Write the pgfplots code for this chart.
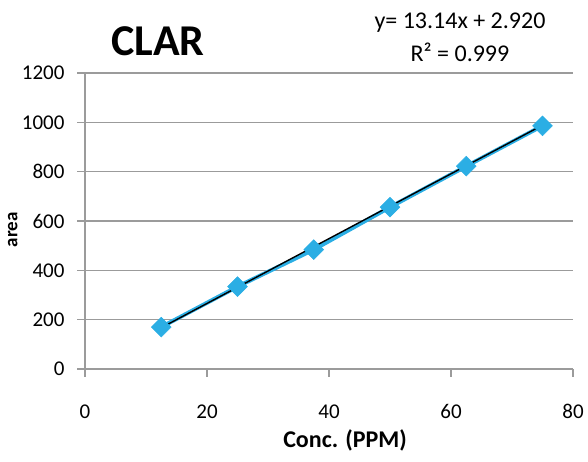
\documentclass[border=0pt]{standalone}
\usepackage{pgfplots}
\pgfplotsset{compat=1.18}
\usepackage{fontspec}
\setmainfont{Carlito}
\definecolor{serblue}{HTML}{2BAEE4}
\definecolor{gridgray}{HTML}{9B9B9B}
\begin{document}
\begin{tikzpicture}[x=1pt,y=1pt]
\path[use as bounding box] (0,0) rectangle (588,462);
\begin{axis}[
  at={(85pt,93pt)}, anchor=south west,
  scale only axis, width=488pt, height=296pt,
  xmin=0, xmax=80, ymin=0, ymax=1200,
  xtick={0,20,...,80}, ytick={0,200,...,1200},
  axis x line*=bottom, axis y line*=left,
  axis line style={gridgray, line width=1.2pt},
  ymajorgrids, grid style={gridgray, line width=1.2pt},
  tick style={gridgray, line width=1.2pt},
  tick align=outside, major tick length=8pt,
  /pgf/number format/assume math mode=true,
  /pgf/number format/1000 sep={},
  ticklabel style={font=\fontsize{21}{23}\selectfont, text=black},
  xticklabel style={yshift=-24pt},
  yticklabel style={xshift=-9pt},
  xlabel={\textbf{Conc. (PPM)}},
  ylabel={\textbf{area}},
  xlabel style={at={(axis description cs:0.533,-0.24)}, anchor=center, font=\fontsize{24}{26}\selectfont},
  ylabel style={at={(axis description cs:-0.148,0.47)}, anchor=center, rotate=0, font=\fontsize{19}{21}\selectfont},
]
% measured peak areas
\addplot[serblue, line width=4pt, mark=square*, mark size=7pt,
  mark options={rotate=45, fill=serblue, draw=serblue, line width=0.5pt}]
  coordinates {(12.5,170) (25,334) (37.5,484) (50,656) (62.5,822) (75,986)};
% linear fit y = 13.14x + 2.920
\addplot[black, line width=1.4pt] coordinates {(12.5,167.2) (75,988.4)};
\end{axis}
\node[font=\fontsize{44}{46}\selectfont\bfseries] at (158,421) {CLAR};
\node[font=\fontsize{24}{26}\selectfont] at (460,439) {y= 13.14x + 2.920};
\node[font=\fontsize{24}{26}\selectfont] at (460,410) {R² = 0.999};
\end{tikzpicture}
\end{document}
